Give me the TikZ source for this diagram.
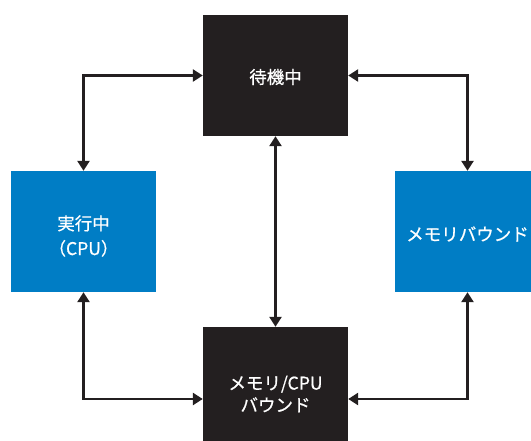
\documentclass[tikz,border=0pt]{standalone}
\usepackage{fontspec}
\newfontfamily\jp[FakeBold=0.7]{Noto Sans CJK JP}
\usetikzlibrary{arrows.meta}
\definecolor{boxblue}{HTML}{007DC5}
\definecolor{boxblack}{HTML}{231F20}
\begin{document}
\begin{tikzpicture}[x=1pt,y=-1pt,
 blk/.style={fill=boxblack, draw=none, inner sep=0pt, minimum width=145pt, minimum height=121pt},
 blu/.style={blk, fill=boxblue},
 lbl/.style={text=white, inner sep=0pt, align=center, font=\jp\fontsize{17.5}{25}\selectfont},
 conn/.style={draw=boxblack, line width=2.5pt, {Triangle[length=10pt,width=12pt]}-{Triangle[length=10pt,width=12pt]}}
]
\useasboundingbox (0,0) rectangle (531,440);
\clip (0,0) rectangle (531,440);
\node[blk] (wait) at (275.5,75.5) {};
\node[blu] (run) at (83.5,231.5) {};
\node[blu] (mem) at (467.5,231.5) {};
\node[blk, minimum height=144pt] (both) at (275.5,399) {};
\node[lbl] (waitt) at (275.5,77) {待機中};
\node[lbl] (runt) at (83.5,236) {実行中\\（CPU）};
\node[lbl] (memt) at (467.5,234) {メモリバウンド};
\node[lbl, font=\jp\fontsize{17.5}{22}\selectfont] (botht) at (275.5,394) {メモリ/CPU\\バウンド};
\draw[conn] (wait.west) -| (run.north);
\draw[conn] (wait.east) -| (mem.north);
\draw[conn] (wait.south) -- (both.north);
\draw[conn] (run.south) |- (both.west);
\draw[conn] (mem.south) |- (both.east);
\end{tikzpicture}
\end{document}
